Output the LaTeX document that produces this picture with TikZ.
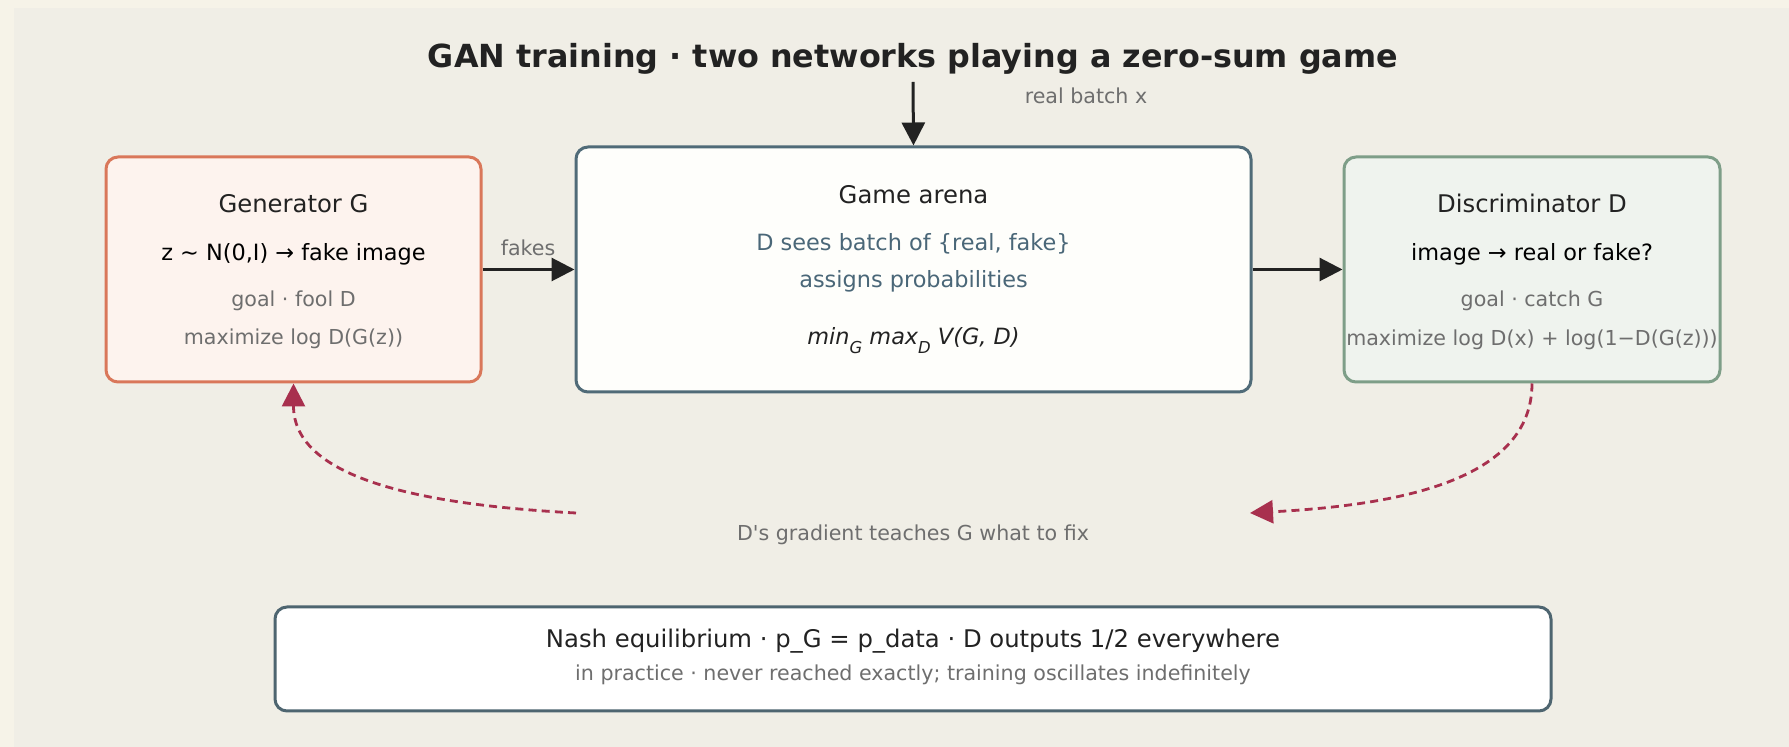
\documentclass[tikz,border=0pt]{standalone}
\usepackage{fontspec}
\setmainfont{DejaVu Sans}[Ligatures=TeXOff]
\usetikzlibrary{arrows.meta}
\definecolor{outerbg}{HTML}{F6F3E8}
\definecolor{panelbg}{HTML}{F0EEE6}
\definecolor{genborder}{HTML}{D9775A}
\definecolor{genfill}{HTML}{FDF3EE}
\definecolor{discborder}{HTML}{7E9E88}
\definecolor{discfill}{HTML}{EFF3EE}
\definecolor{arenaborder}{HTML}{506B78}
\definecolor{arenafill}{HTML}{FEFEFB}
\definecolor{nashborder}{HTML}{4E6570}
\definecolor{bluetext}{HTML}{4A6778}
\definecolor{greytext}{HTML}{6E6E6E}
\definecolor{darktext}{HTML}{222222}
\definecolor{redline}{HTML}{A8304E}
\newcommand{\lowsub}[1]{\raisebox{-0.38em}{\fontsize{8.2pt}{9pt}\selectfont #1}}
\begin{document}
\begin{tikzpicture}[x=0.5pt,y=-0.5pt,
  box/.style={draw, line width=1.5pt, rounded corners=6pt, inner sep=0pt},
  tbig/.style={anchor=base, inner sep=0pt, text=darktext, font=\fontsize{12.15pt}{14pt}\selectfont},
  tmid/.style={anchor=base, inner sep=0pt, text=black, font=\fontsize{11.2pt}{13pt}\selectfont},
  tsmall/.style={anchor=base, inner sep=0pt, text=greytext, font=\fontsize{10.3pt}{12pt}\selectfont},
  arr/.style={line width=1.5pt, draw=darktext, -{Triangle[length=11.5pt,width=11.5pt]}},
  darr/.style={line width=1.4pt, draw=redline, dash pattern=on 4pt off 2.6pt, -{Triangle[length=11.5pt,width=11.5pt]}}
]
\fill[outerbg] (0,0) rectangle (1789,747);
\fill[panelbg] (14,8) rectangle (1789,747);
\useasboundingbox (0,0) rectangle (1789,747);

% title
\node[anchor=base, inner sep=0pt, text=darktext, font=\fontsize{15.9pt}{18pt}\selectfont\bfseries] (title) at (913,68) {GAN training · two networks playing a zero-sum game};

% boxes
\node[box, draw=genborder, fill=genfill, minimum width=187.5pt, minimum height=112.5pt] (gen) at (293.5,269.5) {};
\node[box, draw=arenaborder, fill=arenafill, minimum width=337.5pt, minimum height=122.5pt] (arena) at (913.5,269.5) {};
\node[box, draw=discborder, fill=discfill, minimum width=188pt, minimum height=112.5pt] (disc) at (1532,269.5) {};
\node[box, draw=nashborder, fill=white, minimum width=638pt, minimum height=52pt] (nash) at (913,659) {};

% generator texts
\node[tbig] (genT) at (293.5,213) {Generator G};
\node[tmid] (genS) at (293.5,261) {z \textasciitilde{} N(0,I) → fake image};
\node[tsmall] (genG) at (293.5,307) {goal · fool D};
\node[tsmall] (genM) at (293.5,345) {maximize log D(G(z))};

% arena texts
\node[tbig] (arT) at (913.5,204) {Game arena};
\node[tmid, text=bluetext] (arS1) at (913.5,251) {D sees batch of \{real, fake\}};
\node[tmid, text=bluetext] (arS2) at (913.5,288) {assigns probabilities};
\node[tmid, text=darktext] (arM) at (913.5,345) {\itshape min\lowsub{G} max\lowsub{D} V(G, D)};

% discriminator texts
\node[tbig] (dT) at (1532,213) {Discriminator D};
\node[tmid] (dS) at (1532,261) {image → real or fake?};
\node[tsmall] (dG) at (1532,307) {goal · catch G};
\node[tsmall] (dM) at (1532,346) {maximize log D(x) + log(1−D(G(z)))};

% nash texts
\node[tbig] (n1) at (913,648) {Nash equilibrium · p\_G = p\_data · D outputs 1/2 everywhere};
\node[tsmall] (n2) at (913,681) {in practice · never reached exactly; training oscillates indefinitely};

% labels
\node[tsmall] (fakesL) at (528,256) {fakes};
\node[tsmall] (realL) at (1086,104) {real batch x};
\node[tsmall] (gradL) at (913,541) {D's gradient teaches G what to fix};

% connectors
\coordinate (realtop) at (913,82);
\draw[arr] (realtop) -- (arena.north);
\draw[arr] (gen.east) -- (arena.west);
\draw[arr] (arena.east) -- (disc.west);

\coordinate (gR) at (1250,513);
\coordinate (gLs) at (576,513);
\draw[darr] (disc.south) .. controls (1532,480) and (1400,505) .. (gR);
\draw[darr] (gLs) .. controls (426,505) and (293.5,480) .. (gen.south);
\end{tikzpicture}
\end{document}
